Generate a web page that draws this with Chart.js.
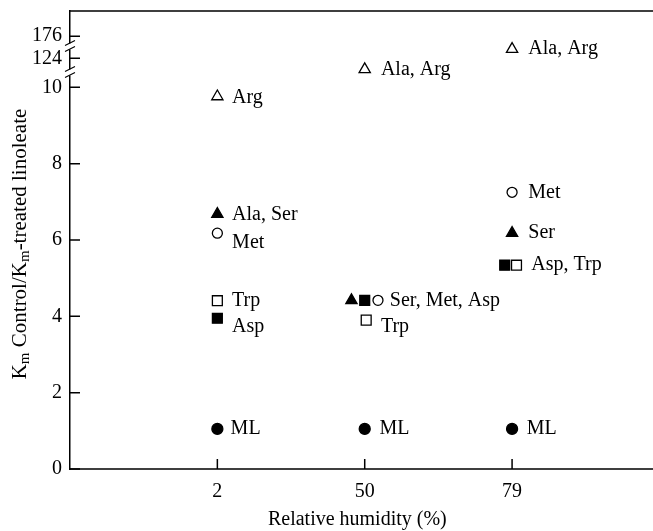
<!DOCTYPE html>
<html>
<head>
<meta charset="utf-8">
<script src="https://cdn.jsdelivr.net/npm/chart.js@4"></script>
<style>
  body { margin: 0; background: #fff; }
  #wrap { width: 653px; height: 531px; }
</style>
</head>
<body>
<div id="wrap"><canvas id="grafico"></canvas></div>
<script>
// categories on the x axis (relative humidity, %)
const categories = ['2', '50', '79'];

// broken y axis: 0..10 is linear, 124 and 176 sit above the breaks
const yTickValues = [0, 2, 4, 6, 8, 10, 10.76, 11.34];
const yTickLabels = ['0', '2', '4', '6', '8', '10', '124', '176'];
const axisBreaks = [10.39, 11.07];

// series, x = category position (1..3), y = position on the axis
const openTriangle   = [{x: 1, y: 9.76}, {x: 2, y: 10.47}, {x: 3, y: 11.0}];
const filledTriangle = [{x: 1, y: 6.68}, {x: 1.91, y: 4.42}, {x: 3, y: 6.18}];
const openCircle     = [{x: 1, y: 6.18}, {x: 2.09, y: 4.42}, {x: 3, y: 7.25}];
const filledCircle   = [{x: 1, y: 1.05}, {x: 2, y: 1.05}, {x: 3, y: 1.05}];
const openSquare     = [{x: 1, y: 4.41}, {x: 2.01, y: 3.9}, {x: 3.03, y: 5.34}];
const filledSquare   = [{x: 1, y: 3.95}, {x: 2, y: 4.42}, {x: 2.95, y: 5.34}];

// text next to the markers (left edge of the text, middle)
const pointLabels = [
  {x: 1.10, y: 9.74, text: 'Arg'},
  {x: 1.10, y: 6.66, text: 'Ala, Ser'},
  {x: 1.10, y: 5.94, text: 'Met'},
  {x: 1.10, y: 4.40, text: 'Trp'},
  {x: 1.10, y: 3.72, text: 'Asp'},
  {x: 1.09, y: 1.05, text: 'ML'},
  {x: 2.11, y: 10.47, text: 'Ala, Arg'},
  {x: 2.17, y: 4.42, text: 'Ser, Met, Asp'},
  {x: 2.11, y: 3.72, text: 'Trp'},
  {x: 2.10, y: 1.05, text: 'ML'},
  {x: 3.11, y: 11.0, text: 'Ala, Arg'},
  {x: 3.11, y: 7.25, text: 'Met'},
  {x: 3.11, y: 6.18, text: 'Ser'},
  {x: 3.13, y: 5.34, text: 'Asp, Trp'},
  {x: 3.10, y: 1.05, text: 'ML'}
];

const serif = "'Liberation Serif', 'DejaVu Serif', serif";

function marker(data, style, filled, radius) {
  return {
    data: data,
    pointStyle: style,
    pointRadius: radius,
    pointBorderWidth: 1.3,
    pointBackgroundColor: filled ? '#000' : '#fff',
    pointBorderColor: '#000',
    showLine: false
  };
}

const decorations = {
  id: 'decorations',
  afterDraw(chart) {
    const ctx = chart.ctx;
    const a = chart.chartArea;
    const xs = chart.scales.x;
    const ys = chart.scales.y;
    ctx.save();
    ctx.strokeStyle = '#000';
    ctx.lineWidth = 1.5;

    // top frame line and bottom axis line, both running on to the edge
    ctx.beginPath();
    ctx.moveTo(a.left, a.top);
    ctx.lineTo(chart.width, a.top);
    ctx.moveTo(a.left - 0.75, a.bottom);
    ctx.lineTo(chart.width, a.bottom);
    ctx.stroke();

    // inner tick marks
    ctx.beginPath();
    yTickValues.forEach(v => {
      const py = ys.getPixelForValue(v);
      ctx.moveTo(a.left, py);
      ctx.lineTo(a.left + 10, py);
    });
    [1, 2, 3].forEach(v => {
      const px = xs.getPixelForValue(v);
      ctx.moveTo(px, a.bottom);
      ctx.lineTo(px, a.bottom - 10);
    });
    ctx.stroke();

    // axis breaks
    axisBreaks.forEach(b => {
      const py = ys.getPixelForValue(b);
      ctx.fillStyle = '#fff';
      ctx.fillRect(a.left - 2, py - 3, 4, 6);
      ctx.lineWidth = 1.1;
      ctx.beginPath();
      ctx.moveTo(a.left - 5, py - 1);
      ctx.lineTo(a.left + 5, py - 6);
      ctx.moveTo(a.left - 5, py + 5);
      ctx.lineTo(a.left + 5, py);
      ctx.stroke();
    });

    // marker labels
    ctx.fillStyle = '#000';
    ctx.font = '20px ' + serif;
    ctx.textAlign = 'left';
    ctx.textBaseline = 'middle';
    pointLabels.forEach(l => {
      ctx.fillText(l.text, xs.getPixelForValue(l.x), ys.getPixelForValue(l.y));
    });

    // y axis title with subscripts
    const big = '21px ' + serif;
    const small = '15px ' + serif;
    const parts = [
      ['K', big, 0], ['m', small, 5], [' Control/K', big, 0],
      ['m', small, 5], ['-treated linoleate', big, 0]
    ];
    let total = 0;
    parts.forEach(p => { ctx.font = p[1]; total += ctx.measureText(p[0]).width; });
    ctx.translate(20, 244);
    ctx.rotate(-Math.PI / 2);
    let cx = -total / 2;
    parts.forEach(p => {
      ctx.font = p[1];
      ctx.fillText(p[0], cx, p[2]);
      cx += ctx.measureText(p[0]).width;
    });
    ctx.restore();
  }
};

const ctx = document.getElementById('grafico').getContext('2d');
new Chart(ctx, {
  type: 'scatter',
  data: {
    datasets: [
      marker(openTriangle, 'triangle', false, 6.5),
      marker(filledTriangle, 'triangle', true, 6.5),
      marker(openCircle, 'circle', false, 5),
      marker(filledCircle, 'circle', true, 5.5),
      marker(openSquare, 'rect', false, 7),
      marker(filledSquare, 'rect', true, 7)
    ]
  },
  options: {
    responsive: true,
    maintainAspectRatio: false,
    animation: false,
    layout: { padding: { top: 11, right: 1, left: 0, bottom: 0 } },
    plugins: {
      legend: { display: false },
      tooltip: { enabled: false }
    },
    scales: {
      x: {
        type: 'linear',
        min: 0,
        max: 3.9,
        afterBuildTicks: s => { s.ticks = [1, 2, 3].map(v => ({value: v})); },
        afterFit: s => { s.height = 62; s.paddingLeft = 0; s.paddingRight = 0; },
        ticks: {
          callback: v => categories[v - 1],
          color: '#000',
          font: { family: serif, size: 20 },
          padding: 11,
          maxRotation: 0
        },
        grid: { display: false, drawTicks: false },
        border: { display: false },
        title: {
          display: true,
          text: 'Relative humidity (%)',
          color: '#000',
          font: { family: serif, size: 20 },
          padding: { top: 0, bottom: -1 }
        }
      },
      y: {
        min: 0,
        max: 12,
        afterBuildTicks: s => { s.ticks = yTickValues.map(v => ({value: v})); },
        afterFit: s => { s.width = 70; s.paddingTop = 0; s.paddingBottom = 0; },
        ticks: {
          callback: v => yTickLabels[yTickValues.indexOf(v)],
          color: '#000',
          font: { family: serif, size: 20 },
          padding: 8
        },
        grid: { display: false, drawTicks: false },
        border: { display: true, color: '#000', width: 1.5 }
      }
    }
  },
  plugins: [decorations]
});
</script>
</body>
</html>
